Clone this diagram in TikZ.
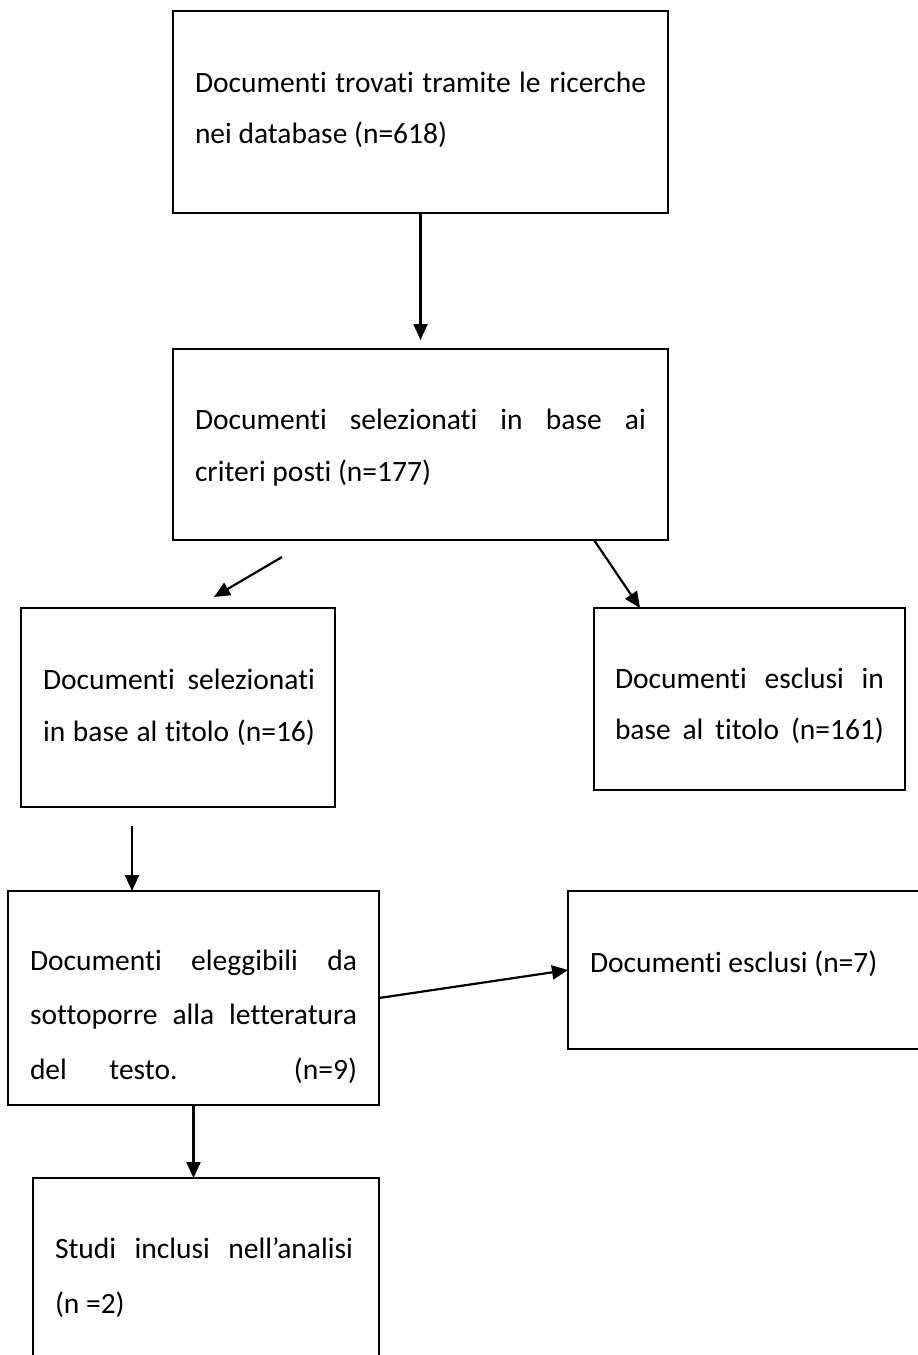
\documentclass[tikz,border=0pt]{standalone}
\usepackage{fontspec}
\setmainfont{Carlito}[Ligatures={NoCommon}]
\usetikzlibrary{arrows.meta}
\tikzset{
  box/.style={draw, line width=1.6pt, rectangle, inner sep=0pt, outer sep=0pt, anchor=north west},
  txt/.style={anchor=base west, inner sep=0pt, outer sep=0pt, font=\fontsize{29.5}{35}\selectfont},
  conn/.style={line width=2.2pt, -{Triangle[length=16pt,width=14pt]}},
}
\newcommand{\jline}[2]{\makebox[#1][s]{#2}}
\begin{document}
\begin{tikzpicture}[x=1pt,y=-1pt]
\fill[white] (0,0) rectangle (918,1355);
\useasboundingbox (0,0) rectangle (918,1355);
% boxes
\node[box, minimum width=495pt, minimum height=202pt] (b1) at (173,11) {};
\node[box, minimum width=495pt, minimum height=191pt] (b2) at (173,349) {};
\node[box, minimum width=314pt, minimum height=199pt] (b3) at (21,608) {};
\node[box, minimum width=311pt, minimum height=182pt] (b4) at (594,608) {};
\node[box, minimum width=371pt, minimum height=214pt] (b5) at (8,891) {};
\node[box, minimum width=360pt, minimum height=158pt] (b6) at (568,891) {};
\node[box, minimum width=346pt, minimum height=190pt] (b7) at (33,1178) {};
% texts
\node[txt] (t1a) at (195,92) {\jline{451pt}{Documenti trovati tramite le ricerche}};
\node[txt] (t1b) at (195,143) {nei database (n=618)};
\node[txt] (t2a) at (195,429) {\jline{451pt}{Documenti selezionati in base ai}};
\node[txt] (t2b) at (195,481) {criteri posti (n=177)};
\node[txt] (t3a) at (43,689) {\jline{272pt}{Documenti selezionati}};
\node[txt] (t3b) at (43,741) {\jline{272pt}{in base al titolo (n=16)}};
\node[txt] (t4a) at (615,688) {\jline{269pt}{Documenti esclusi in}};
\node[txt] (t4b) at (615,739) {\jline{269pt}{base al titolo (n=161)}};
\node[txt] (t5a) at (30,970) {\jline{327pt}{Documenti eleggibili da}};
\node[txt] (t5b) at (30,1024) {\jline{327pt}{sottoporre alla letteratura}};
\node[txt] (t5c) at (30,1079) {\jline{327pt}{del testo. (n=9)}};
\node[txt] (t6a) at (590,972) {Documenti esclusi (n=7)};
\node[txt] (t7a) at (55,1258) {\jline{298pt}{Studi inclusi nell’analisi}};
\node[txt] (t7b) at (55,1313) {(n =2)};
% free ends
\coordinate (a2s) at (282,557);
\coordinate (a2e) at (214,597);
\coordinate (a3s) at (594,540);
\coordinate (a3e) at (640,608);
\coordinate (a4s) at (132,826);
% connectors
\draw[conn, shorten >=9pt] (b1.south) -- (b2.north);
\draw[conn] (a2s) -- (a2e);
\draw[conn] (a3s) -- (a3e);
\draw[conn] (a4s) -- (a4s |- b5.north);
\draw[conn] (b5.east) -- (b6.west);
\draw[conn] (b5.south) -- (b5.south |- b7.north);
\end{tikzpicture}
\end{document}
